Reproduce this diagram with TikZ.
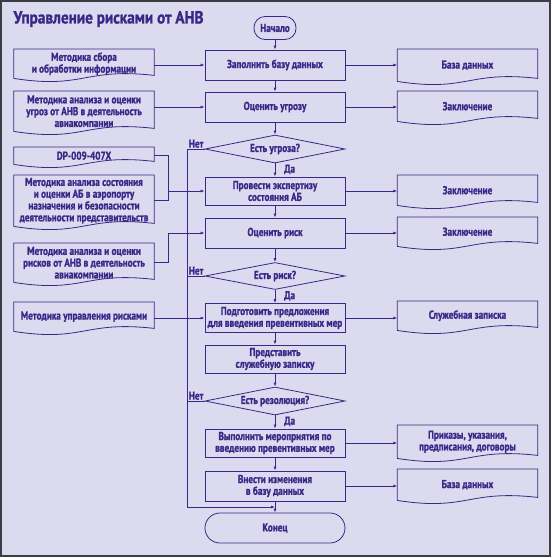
\documentclass[tikz,border=0pt]{standalone}
\usepackage{fontspec}
\setmainfont{PT Sans}[FakeStretch=0.8,BoldFeatures={FakeBold=1.2}]
\newfontfamily\titlefont{PT Sans}[FakeStretch=0.87,BoldFeatures={FakeBold=1.3}]
\usetikzlibrary{shapes.geometric,calc,arrows.meta}
\definecolor{ink}{HTML}{3A2888}
\definecolor{paper}{HTML}{DCDAEE}
\definecolor{rim}{HTML}{3C3C44}
\tikzset{
	txt/.style={text=ink, align=center, inner sep=1pt, font=\bfseries\fontsize{11.5}{11.8}\selectfont},
	ln/.style={draw=ink, line width=0.8pt},
	arr/.style={ln, -{Latex[length=4pt,width=3pt]}},
	proc/.style={txt, ln, rectangle, minimum width=140pt, minimum height=28pt},
	quest/.style={proc, diamond, aspect=5},
	term/.style={proc, rounded corners=11pt},
	doc/.style={txt, rectangle, anchor=north, minimum width=140pt}
}
\begin{document}
\begin{tikzpicture}[x=1pt,y=-1pt]
		\useasboundingbox (0,0) rectangle (552,558);
		\fill[white] (0,0) rectangle (552,558);
		\draw[rim, fill=paper, line width=2pt] (1,1) rectangle (550,556);
		\node[anchor=west, text=ink, font=\titlefont\bfseries\fontsize{17.5}{19}\selectfont] (title) at (10,19) {Управление рисками от АНВ};

		\node[term, minimum width=42pt, minimum height=23pt] (start) at (275,28) {Начало};
		\node[proc, minimum height=30pt] (fill) at (275,65) {Заполнить базу данных};
		\node[proc, minimum height=30pt] (threat) at (275,107) {Оценить угрозу};
		\node[quest] (isThreat) at (275,149) {Есть угроза?};
		\node[proc] (exam) at (275,191) {Провести экспертизу\\состояния АБ};
		\node[proc, minimum height=30pt] (risk) at (275,233) {Оценить риск};
		\node[quest, minimum height=27pt] (isRisk) at (275,276) {Есть риск?};
		\node[proc, minimum height=29pt] (prep) at (275,318) {Подготовить предложения\\для введения превентивных мер};
		\node[proc] (memo) at (275,359) {Представить\\служебную записку};
		\node[quest] (isRes) at (275,401) {Есть резолюция?};
		\node[proc] (act) at (275,443) {Выполнить мероприятия по\\введению превентивных мер};
		\node[proc, minimum height=30pt] (upd) at (275,486) {Внести изменения\\в базу данных};
		\node[term, minimum height=30pt, rounded corners=15pt] (stop) at (275,528) {Конец};

		\node[doc, minimum height=29pt] (mSbor) at (84,49) {Методика сбора\\и обработки информации};
		\node[doc, minimum height=40pt] (mThreat) at (84,91) {Методика анализа и оценки\\угроз от АНВ в деятельность\\авиакомпании};
		\node[doc, minimum height=17pt] (dp) at (84,147) {DP-009-407X};
		\node[doc, minimum height=51pt] (mState) at (84,175) {Методика анализа состояния\\и оценки АБ в аэропорту\\назначения и безопасности\\деятельности представительств};
		\node[doc, minimum height=39pt] (mRisk) at (84,243) {Методика анализа и оценки\\рисков от АНВ в деятельность\\авиакомпании};
		\node[doc, minimum height=29pt] (mMgmt) at (84,302) {Методика управления рисками};

		\node[doc, minimum height=32pt] (bd1) at (467.5,49) {База данных};
		\node[doc, minimum height=30pt] (zak1) at (467.5,91) {Заключение};
		\node[doc, minimum height=30pt] (zak2) at (467.5,175) {Заключение};
		\node[doc, minimum height=29pt] (zak3) at (467.5,217) {Заключение};
		\node[doc, minimum height=29pt] (sz) at (467.5,301) {Служебная записка};
		\node[doc, minimum height=33pt] (prik) at (467.5,425) {Приказы, указания,\\предписания, договоры};
		\node[doc, minimum height=31pt] (bd2) at (467.5,469) {База данных};

		\foreach \d in {mSbor,mThreat,dp,mState,mRisk,mMgmt,bd1,zak1,zak2,zak3,sz,prik,bd2}
			\draw[ln] (\d.south west) -- (\d.north west) -- (\d.north east) -- ($(\d.south east)+(0,-3)$)
				.. controls ($(\d.south)+(0,-11)$) and ($(\d.south)+(0,11)$) .. (\d.south west);

		\foreach \a/\b in {start/fill,fill/threat,threat/isThreat,isThreat/exam,exam/risk,risk/isRisk,isRisk/prep,prep/memo,memo/isRes,isRes/act,act/upd,upd/stop}
			\draw[arr] (\a) -- (\b);
		\foreach \a/\b in {fill/bd1,threat/zak1,exam/zak2,risk/zak3,prep/sz,act/prik,upd/bd2}
			\draw[arr] (\a.east) -- (\a.east -| \b.west);
		\foreach \a/\b in {mSbor/fill,mThreat/threat,mMgmt/prep}
			\draw[arr] (\a.east |- \b) -- (\b.west);

		\coordinate (fork) at (168,0);
		\draw[ln] (dp.east) -| (fork |- mState.east) -- (mState.east);
		\draw[arr] (fork |- exam) -- (exam.west);
		\draw[arr] (mRisk.east) -| (fork |- risk) -- (risk.west);

		\coordinate (no) at (187,0);
		\coordinate (merge) at ($(upd.south)!0.5!(stop.north)$);
		\draw[arr] (isThreat.west) -| (no |- merge) -- (merge);
		\foreach \q in {isRisk,isRes}
			\draw[ln] (\q.west) -- (no |- \q);
		\foreach \q in {isThreat,isRisk,isRes}{
			\node[txt, anchor=south east] at (\q.west) {Нет};
			\node[txt, anchor=north west, xshift=8pt] at (\q.south) {Да};
		}
	\end{tikzpicture}
\end{document}
